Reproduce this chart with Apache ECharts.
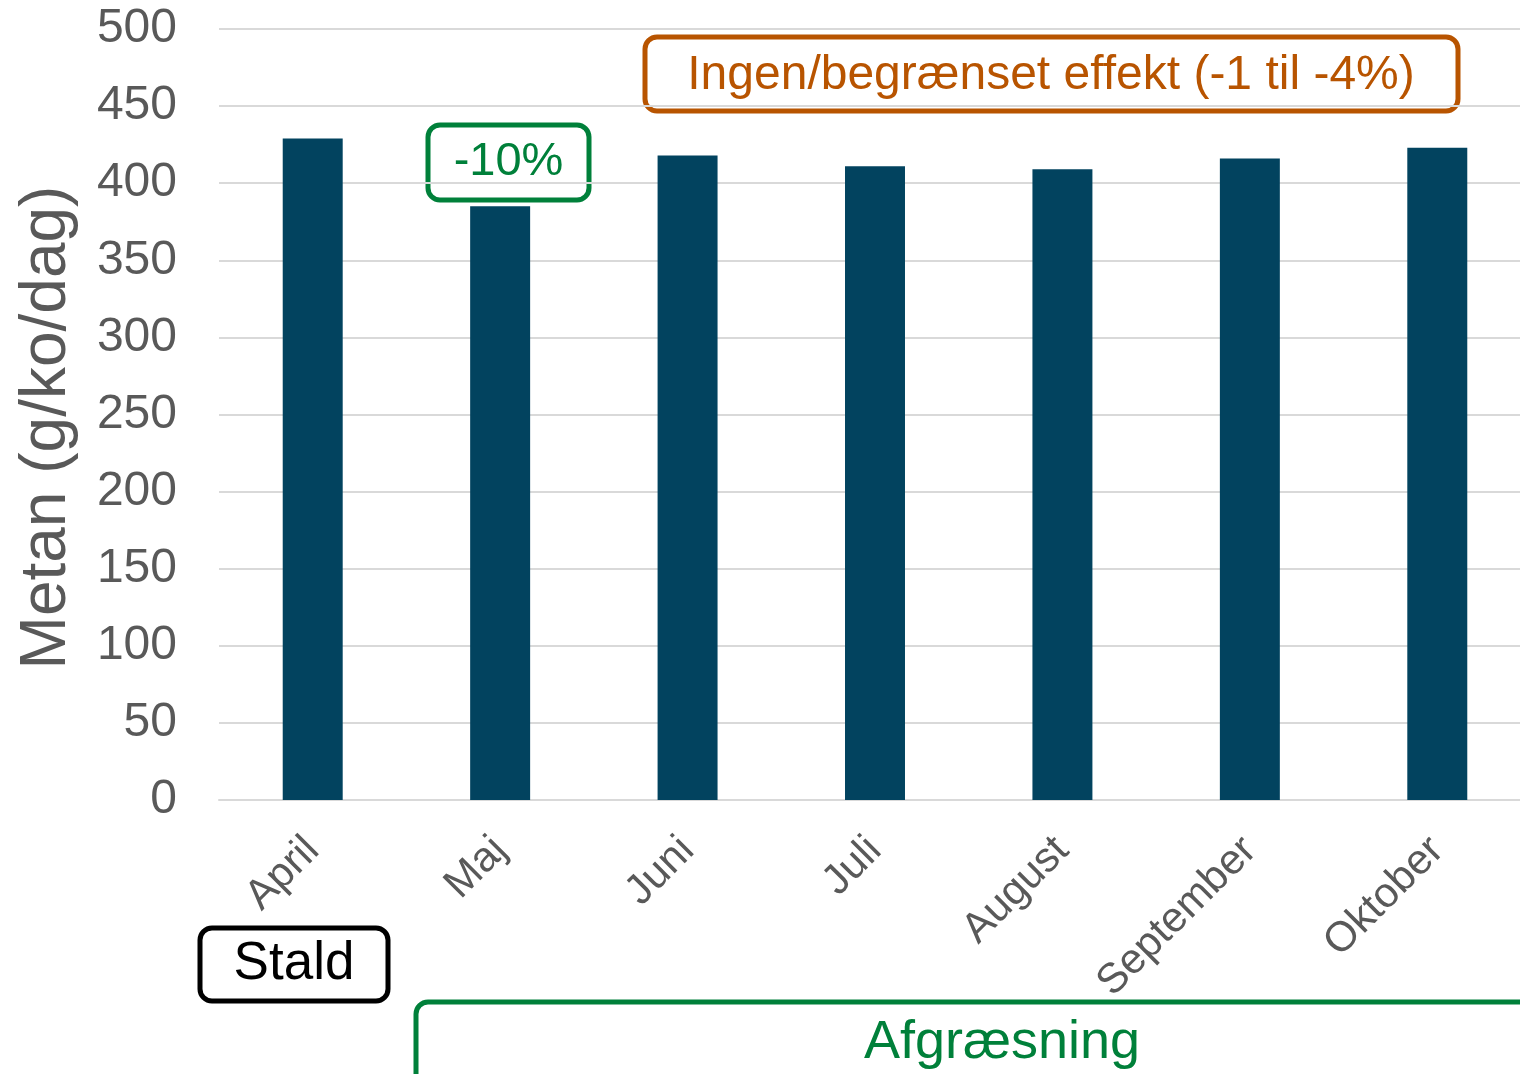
<!DOCTYPE html>
<html>
<head>
<meta charset="utf-8">
<script src="https://cdn.jsdelivr.net/npm/echarts@6/dist/echarts.min.js"></script>
<style>
  html, body { margin: 0; padding: 0; background: #fff; }
  #chart { width: 1520px; height: 1074px; }
</style>
</head>
<body>
<div id="chart"></div>
<script>
var months = ['April', 'Maj', 'Juni', 'Juli', 'August', 'September', 'Oktober'];
var metan = [429, 385, 418, 411, 409, 416, 423];
var yTicks = [0, 50, 100, 150, 200, 250, 300, 350, 400, 450, 500];

var font = 'Liberation Sans, Arial, sans-serif';
var barColor = '#02435f';
var green = '#00803a';
var orange = '#b85400';

var myChart = echarts.init(document.getElementById('chart'));

// box with text inside, absolute pixels
function box(x, y, w, h, label, color, fontSize, textX, textY) {
  return {
    type: 'group',
    children: [{
      type: 'rect',
      shape: { x: x, y: y, width: w, height: h, r: 12 },
      style: { fill: '#fff', stroke: color, lineWidth: 5 }
    }, {
      type: 'text',
      x: textX !== undefined ? textX : x + w / 2,
      y: textY !== undefined ? textY : y + h / 2,
      style: {
        text: label,
        fill: color,
        font: fontSize + 'px ' + font,
        align: 'center',
        verticalAlign: 'middle'
      }
    }]
  };
}

var option = {
  backgroundColor: '#fff',
  animation: false,
  grid: {
    left: 219,
    right: -11,
    top: 29,
    bottom: 274,
    containLabel: false,
    outerBoundsMode: 'none'
  },
  xAxis: {
    type: 'category',
    data: months,
    axisLine: { lineStyle: { color: '#d9d9d9', width: 2 } },
    axisTick: { show: false },
    axisLabel: {
      rotate: 45,
      margin: 44,
      color: '#595959',
      fontSize: 42,
      fontFamily: font
    }
  },
  yAxis: {
    type: 'value',
    min: yTicks[0],
    max: yTicks[yTicks.length - 1],
    interval: 50,
    name: 'Metan (g/ko/dag)',
    nameLocation: 'middle',
    nameGap: 140,
    nameTextStyle: { color: '#595959', fontSize: 64, fontFamily: font, padding: [0, 26, 0, 0] },
    axisLine: { show: false },
    axisTick: { show: false },
    axisLabel: { color: '#595959', fontSize: 48, fontFamily: font, margin: 42 },
    splitLine: { lineStyle: { color: '#d9d9d9', width: 2 } }
  },
  series: [{
    type: 'bar',
    data: metan,
    barWidth: '32%',
    itemStyle: { color: barColor }
  }],
  graphic: [
    box(428, 125, 161, 75, '-10%', green, 47),
    box(645, 37, 813, 74, 'Ingen/begrænset effekt (-1 til -4%)', orange, 48, 1051, 76),
    box(200, 928, 188, 73, 'Stald', '#000', 53),
    box(416, 1002, 1200, 200, 'Afgræsning', green, 54, 1002, 1043)
  ]
};

myChart.setOption(option);
</script>
</body>
</html>
